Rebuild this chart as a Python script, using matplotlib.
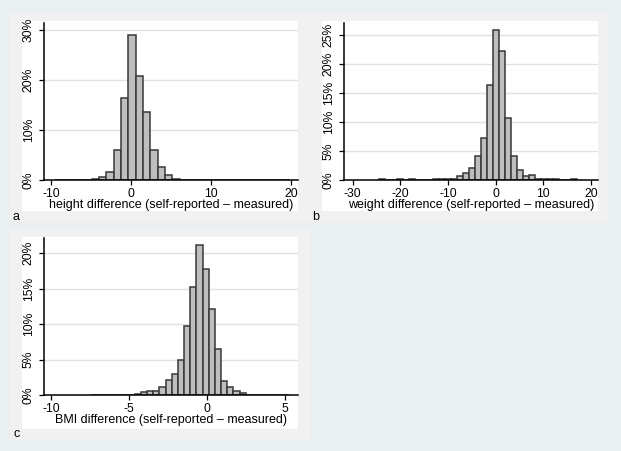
import matplotlib
matplotlib.use("Agg")
import matplotlib.pyplot as plt
from matplotlib.patches import Rectangle
import numpy as np

plt.rcParams['font.family'] = ['Liberation Sans', 'DejaVu Sans']

# ---------------- data (percent per bin) ----------------
height_first_edge = -9.5
height_bin_width = 0.9167
height_pct = [0.15, 0.15, 0, 0, 0.1, 0.35, 0.6, 1.6, 6.0, 16.4, 29.0, 20.8,
              13.6, 6.0, 2.6, 1.0, 0.35, 0.15, 0.15, 0.15, 0, 0.15, 0, 0.15,
              0, 0, 0, 0, 0, 0.15, 0, 0.15]

weight_first_edge = -24.48
weight_bin_width = 1.26
weight_pct = [0.15, 0, 0, 0.15, 0, 0.15, 0, 0, 0.1, 0.15, 0.2, 0.25, 0.25,
              0.7, 1.2, 2.1, 4.2, 7.3, 16.4, 25.9, 22.3, 10.7, 4.2, 1.7, 0.7,
              0.9, 0.15, 0.15, 0.15, 0.15, 0, 0, 0.15]

bmi_first_edge = -7.41
bmi_bin_width = 0.395
bmi_pct = [0.1, 0.1, 0.1, 0, 0.08, 0.08, 0.08, 0.15, 0.4, 0.6, 0.6, 1.1, 2.1,
           3.0, 5.0, 9.7, 15.2, 21.1, 17.7, 12.1, 6.5, 2.0, 1.2, 0.6, 0.3,
           0.1, 0.1, 0, 0, 0, 0.1, 0.1]

height_xticks = [-10, 0, 10, 20]
weight_xticks = [-30, -20, -10, 0, 10, 20]
bmi_xticks = [-10, -5, 0, 5]
height_yticks = [0, 10, 20, 30]
weight_yticks = [0, 5, 10, 15, 20, 25]
bmi_yticks = [0, 5, 10, 15, 20]

height_label = "height difference (self-reported \u2013 measured)"
weight_label = "weight difference (self-reported \u2013 measured)"
bmi_label = "BMI difference (self-reported \u2013 measured)"

# ---------------- figure ----------------
W, H = 621, 451
fig = plt.figure(figsize=(W / 100, H / 100), dpi=100)
fig.patch.set_facecolor('#eaf0f2')


def px_rect(x0, y0, x1, y1, color, z=-5):
    fig.patches.append(Rectangle((x0 / W, 1 - y1 / H), (x1 - x0) / W, (y1 - y0) / H,
                                 transform=fig.transFigure, facecolor=color,
                                 edgecolor='none', zorder=z))


# grey graph regions
px_rect(10, 13, 608, 222, '#f1f1f1', -6)
px_rect(10, 230, 310, 440, '#f1f1f1', -6)
# white panel regions
px_rect(22, 21, 298, 211, 'white', -5)
px_rect(322, 21, 598, 211, 'white', -5)
px_rect(22, 237, 298, 429, 'white', -5)


def px_axes(x0, y0, x1, y1):
    return fig.add_axes([x0 / W, 1 - y1 / H, (x1 - x0) / W, (y1 - y0) / H])


def draw(ax, first_edge, width, pct, xlim, ylim, xticks, yticks, xlabel):
    n = len(pct)
    lefts = first_edge + width * np.arange(n)
    ax.bar(lefts, pct, width=width, align='edge', color='#bebebe',
           edgecolor='#383838', linewidth=1.1, zorder=3)
    ax.set_xlim(*xlim)
    ax.set_ylim(*ylim)
    ax.set_facecolor('none')
    for s in ['top', 'right']:
        ax.spines[s].set_visible(False)
    for s in ['left', 'bottom']:
        ax.spines[s].set_color('black')
        ax.spines[s].set_linewidth(1.1)
        ax.spines[s].set_zorder(4)
    ax.set_xticks(xticks)
    ax.set_xticklabels([str(t) for t in xticks])
    ax.set_yticks(yticks)
    ax.set_yticklabels([f"{t}%" for t in yticks], rotation=90, va='center')
    for t in yticks[1:]:
        ax.axhline(t, color='#e1e1e1', linewidth=1.0, zorder=1)
    ax.tick_params(axis='both', length=3.6, width=0.9, color='black',
                   labelsize=8.7, labelcolor='black')
    ax.tick_params(axis='x', pad=2.0)
    ax.tick_params(axis='y', pad=3.2)
    ax.set_xlabel(xlabel, fontsize=9, labelpad=-1)


ax_a = px_axes(44.3, 23, 297.7, 180.3)
draw(ax_a, height_first_edge, height_bin_width, height_pct,
     (-10.84, 20.84), (0, 31.46), height_xticks, height_yticks, height_label)

ax_b = px_axes(344.3, 23, 597.7, 180.3)
draw(ax_b, weight_first_edge, weight_bin_width, weight_pct,
     (-31.75, 21.4), (0, 27.07), weight_xticks, weight_yticks, weight_label)

ax_c = px_axes(44.3, 238.3, 297.7, 395.3)
draw(ax_c, bmi_first_edge, bmi_bin_width, bmi_pct,
     (-10.43, 5.79), (0, 22.06), bmi_xticks, bmi_yticks, bmi_label)

for lab, x, y in [("a", 12.5, 219.5), ("b", 312.5, 219.5), ("c", 14, 437)]:
    fig.text(x / W, 1 - y / H, lab, fontsize=9, ha='left', va='baseline',
             color='black')

fig.savefig("out.png", dpi=100, facecolor=fig.get_facecolor())
